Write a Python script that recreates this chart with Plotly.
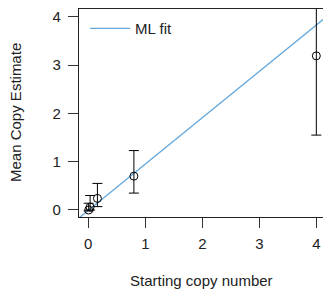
import plotly.graph_objects as go

# Data
start_copy = [0.0064, 0.032, 0.16, 0.8, 4.0]
mean_est = [0.0, 0.06, 0.24, 0.70, 3.19]
upper = [0.14, 0.30, 0.55, 1.23, 4.8]
lower = [-0.02, 0.0, 0.07, 0.35, 1.55]
fit_x = [-0.2, 4.2]
fit_y = [-0.2, 4.02]

x_ticks = [0, 1, 2, 3, 4]
y_ticks = [0, 1, 2, 3, 4]

err_plus = [u - m for u, m in zip(upper, mean_est)]
err_minus = [m - l for m, l in zip(mean_est, lower)]

FONT = "Liberation Sans, Arial, sans-serif"
TXT = "#222"

fig = go.Figure()
fig.add_trace(go.Scatter(
    x=fit_x, y=fit_y, mode="lines", name="ML fit",
    line=dict(color="rgb(100,168,220)", width=1.3),
    showlegend=True,
))
fig.add_trace(go.Scatter(
    x=start_copy, y=mean_est, mode="markers", showlegend=False,
    marker=dict(symbol="circle-open", size=8, color="black", line=dict(width=1, color="black")),
    error_y=dict(type="data", array=err_plus, arrayminus=err_minus, visible=True,
                 color="black", thickness=1, width=5),
))

fig.update_layout(
    width=323, height=293,
    margin=dict(l=79, r=0, t=9, b=76),
    paper_bgcolor="white", plot_bgcolor="white",
    font=dict(family=FONT, size=15, color=TXT),
    legend=dict(x=0.025, y=0.985, xanchor="left", yanchor="top",
                bgcolor="rgba(0,0,0,0)", borderwidth=0, itemwidth=40,
                font=dict(size=15, color=TXT)),
    xaxis=dict(range=[-0.163, 4.117], tickvals=x_ticks, ticks="outside", ticklen=10,
               tickcolor="#333", showline=True, linecolor="#222", linewidth=1.2,
               mirror=True, showgrid=False, zeroline=False, ticklabelstandoff=3,
               tickfont=dict(size=15, color=TXT)),
    yaxis=dict(range=[-0.145, 4.16], tickvals=y_ticks, ticks="outside", ticklen=10,
               tickcolor="#333", showline=True, linecolor="#222", linewidth=1.2,
               mirror=False, showgrid=False, zeroline=False, ticklabelstandoff=4,
               tickfont=dict(size=15, color=TXT)),
    annotations=[
        dict(text="Starting copy number", xref="paper", yref="paper", x=0.5, y=0,
             yshift=-63, xanchor="center", yanchor="middle", showarrow=False,
             font=dict(size=15, color=TXT)),
        dict(text="Mean Copy Estimate", xref="paper", yref="paper", x=0, y=0.5,
             xshift=-64, xanchor="center", yanchor="middle", textangle=-90,
             showarrow=False, font=dict(size=15, color=TXT)),
    ],
)

fig.write_html(
    "out.html",
    config={"displayModeBar": False},
    post_script="document.body.style.margin='0';document.body.style.overflow='hidden';",
)
